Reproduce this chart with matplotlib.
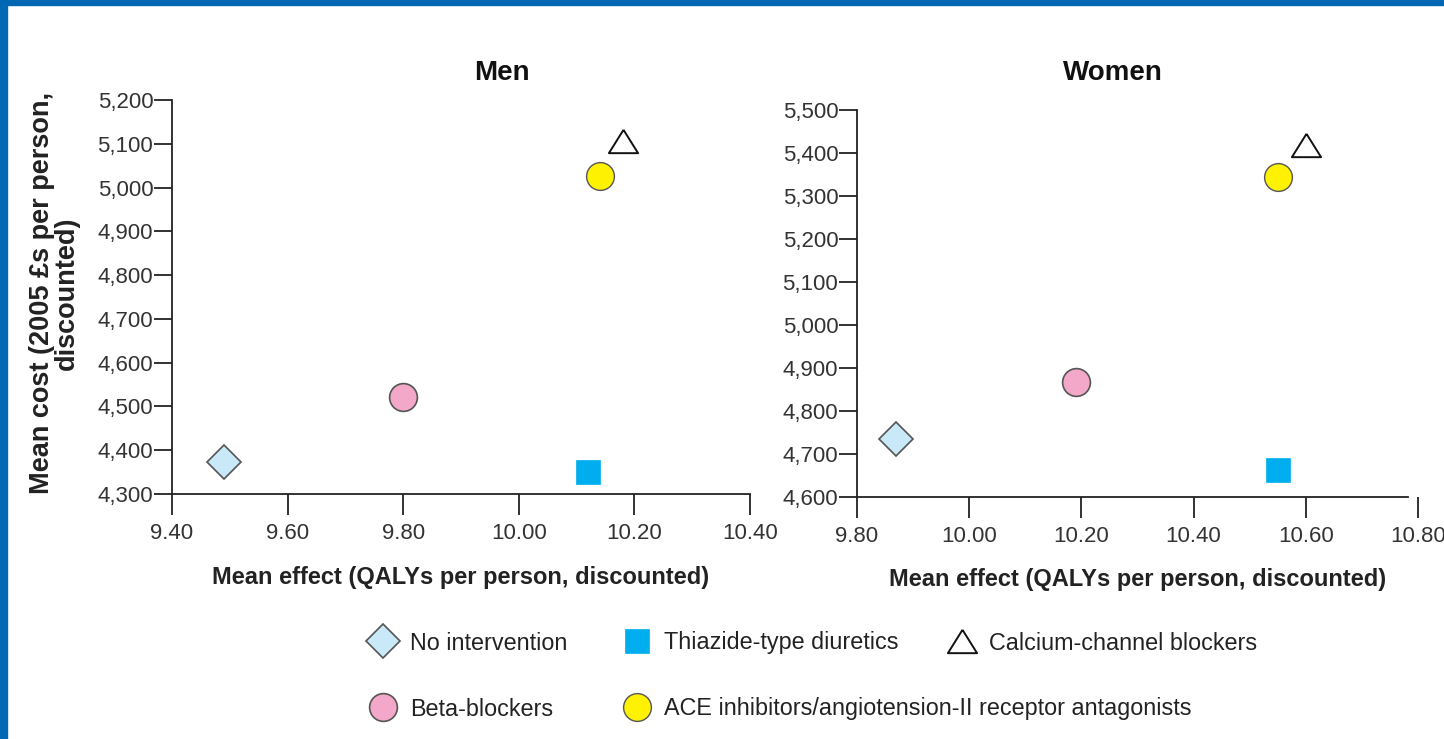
import matplotlib
matplotlib.use("Agg")
import matplotlib.pyplot as plt
from matplotlib.patches import Rectangle
from matplotlib.ticker import FuncFormatter

plt.rcParams['font.family'] = ['Liberation Sans', 'DejaVu Sans']

# Strategies compared (order used for legend and markers)
strategies = [
    "No intervention",
    "Thiazide-type diuretics",
    "Calcium-channel blockers",
    "Beta-blockers",
    "ACE inhibitors/angiotension-II receptor antagonists",
]

# Mean effect (QALYs) and mean cost (£) per strategy
men_effect = [9.49, 10.12, 10.18, 9.80, 10.14]
men_cost = [4373, 4350, 5107, 4522, 5026]
women_effect = [9.87, 10.55, 10.60, 10.19, 10.55]
women_cost = [4735, 4663, 5419, 4868, 5344]

# Axis ranges and ticks
men_xticks = [9.40, 9.60, 9.80, 10.00, 10.20, 10.40]
men_yticks = [4300, 4400, 4500, 4600, 4700, 4800, 4900, 5000, 5100, 5200]
women_xticks = [9.80, 10.00, 10.20, 10.40, 10.60, 10.80]
women_yticks = [4600, 4700, 4800, 4900, 5000, 5100, 5200, 5300, 5400, 5500]

# Marker styles per strategy
tri = [(0, 0.8), (-1, -0.8), (1, -0.8), (0, 0.8)]
styles = [
    dict(marker="D", ms=17, mfc="#c9e8f8", mec="#555555", mew=1.2),
    dict(marker="s", ms=17, mfc="#00aeef", mec="#00aeef", mew=0.5),
    dict(marker=tri, ms=21, mfc="white", mec="#111111", mew=1.4),
    dict(marker="o", ms=20, mfc="#f4a8c9", mec="#555555", mew=1.2),
    dict(marker="o", ms=20, mfc="#fff200", mec="#555555", mew=1.0),
]

W, H = 1444, 739
fig = plt.figure(figsize=(W / 100, H / 100), dpi=100)
fig.patch.set_facecolor("white")

def px_rect(l, t, r, b):
    return [l / W, 1 - b / H, (r - l) / W, (b - t) / H]

ax_m = fig.add_axes(px_rect(172, 100, 750, 494))
ax_w = fig.add_axes(px_rect(857, 110, 1418, 497))

label_font = dict(fontsize=17, fontweight="bold", color="#222222")

def setup(ax, xticks, yticks, effect, cost, title, title_x):
    handles = []
    for i, name in enumerate(strategies):
        h, = ax.plot([effect[i]], [cost[i]], linestyle="none", label=name,
                     zorder=3, clip_on=False, **styles[i])
        handles.append(h)
    ax.set_xlim(xticks[0], xticks[-1])
    ax.set_ylim(yticks[0], yticks[-1])
    ax.set_xticks(xticks)
    ax.set_yticks(yticks)
    ax.xaxis.set_major_formatter(FuncFormatter(lambda v, p: f"{v:.2f}"))
    ax.yaxis.set_major_formatter(FuncFormatter(lambda v, p: f"{v:,.0f}"))
    for s in ("top", "right"):
        ax.spines[s].set_visible(False)
    for s in ("left", "bottom"):
        ax.spines[s].set_linewidth(1.3)
        ax.spines[s].set_color("#222222")
    ax.tick_params(axis="both", direction="out", width=1.3,
                   color="#222222", labelsize=16, labelcolor="#333333")
    ax.tick_params(axis="x", length=15, pad=6)
    ax.tick_params(axis="y", length=13, pad=0.5)
    ax.set_xlabel("Mean effect (QALYs per person, discounted)", va="center", **label_font)
    ax.xaxis.set_label_coords(0.5, -0.213)
    fig.text(title_x / W, 1 - 73 / H, title, ha="center", va="center",
             fontsize=20, fontweight="bold", color="#111111")
    return handles

handles = setup(ax_m, men_xticks, men_yticks, men_effect, men_cost, "Men", 502)
setup(ax_w, women_xticks, women_yticks, women_effect, women_cost, "Women", 1113)
ax_w.spines["bottom"].set_bounds(women_xticks[0], 10.782)

ax_m.set_ylabel("Mean cost (2005 £s per person,\ndiscounted)", ha="center", va="center",
                linespacing=0.95, fontsize=19.5, fontweight="bold", color="#222222")
ax_m.yaxis.set_label_coords(-0.204, 0.51)

# Legend: one entry per slot, two rows
slots = [(383, 643), (637, 643), (962, 643), (383, 709), (637, 709)]
fs = 16.8
hl = 1.2
for h, (mx, my) in zip(handles, slots):
    x0 = (mx - 0.5 * hl * fs * 100 / 72) / W
    leg = fig.legend(handles=[h], loc="center left", bbox_to_anchor=(x0, 1 - my / H),
                     frameon=False, fontsize=fs, handlelength=hl, handletextpad=0.55,
                     borderpad=0, borderaxespad=0, numpoints=1)
    for t in leg.get_texts():
        t.set_color("#222222")

# Blue frame along the left and top edges
frame_col = "#0068b2"
fig.patches.append(Rectangle((0, 0), 7 / W, 1, transform=fig.transFigure,
                             color=frame_col, zorder=10))
fig.patches.append(Rectangle((0, 1 - 5 / H), 1, 5 / H, transform=fig.transFigure,
                             color=frame_col, zorder=10))

fig.savefig("out.png", dpi=100)
